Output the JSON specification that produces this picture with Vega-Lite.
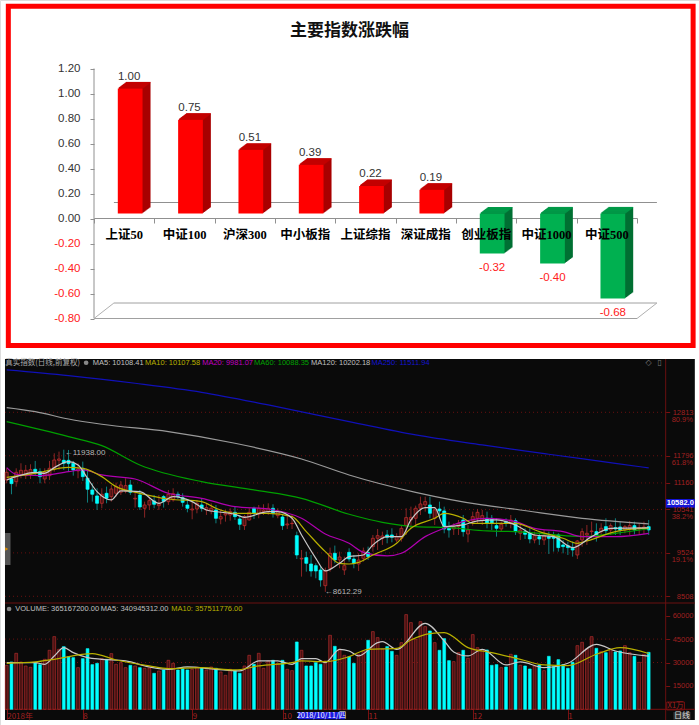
{"$schema":"https://vega.github.io/schema/vega-lite/v6.json","width":699,"height":725,"padding":0,"autosize":"none","background":"#ffffff",
"title":{"text":"主要指数涨跌幅","font":"Noto Sans CJK SC","fontSize":17,"fontWeight":"bold","color":"#111111","anchor":"middle","offset":-53,"baseline":"alphabetic"},
"datasets":{
"one":[{"k":0}],
"bars":[{"name":"上证50","value":1.00,"label":"1.00"},{"name":"中证100","value":0.75,"label":"0.75"},{"name":"沪深300","value":0.51,"label":"0.51"},{"name":"中小板指","value":0.39,"label":"0.39"},{"name":"上证综指","value":0.22,"label":"0.22"},{"name":"深证成指","value":0.19,"label":"0.19"},{"name":"创业板指","value":-0.32,"label":"-0.32"},{"name":"中证1000","value":-0.40,"label":"-0.40"},{"name":"中证500","value":-0.68,"label":"-0.68"}],
"levels":[{"price":12813,"pct":"80.9%"},{"price":11796,"pct":"61.8%"},{"price":11160,"pct":""},{"price":10541,"pct":"38.2%"},{"price":9524,"pct":"19.1%"},{"price":8508,"pct":""}],
"vlevels":[{"v":45000},{"v":30000}],
"candles":[
{"d":0,"o":11230,"h":11503,"l":11152,"c":11409,"v":28208},{"d":1,"o":11253,"h":11308,"l":10895,"c":11144,"v":30345},{"d":2,"o":11191,"h":11503,"l":11074,"c":11409,"v":35902},{"d":3,"o":11347,"h":11620,"l":11269,"c":11456,"v":30345},{"d":4,"o":11331,"h":11581,"l":11253,"c":11456,"v":27781},{"d":5,"o":11363,"h":11597,"l":11253,"c":11472,"v":26926},{"d":6,"o":11480,"h":11675,"l":11331,"c":11425,"v":29918},{"d":7,"o":11425,"h":11503,"l":11152,"c":11308,"v":28636},{"d":8,"o":11253,"h":11503,"l":11152,"c":11409,"v":32055},{"d":9,"o":11331,"h":11675,"l":11230,"c":11503,"v":37825},
{"d":10,"o":11487,"h":11854,"l":11425,"c":11698,"v":46587},{"d":11,"o":11690,"h":11893,"l":11464,"c":11721,"v":38466},{"d":12,"o":11690,"h":11938,"l":11464,"c":11620,"v":40176},{"d":13,"o":11690,"h":11932,"l":11425,"c":11612,"v":33765},{"d":14,"o":11620,"h":11675,"l":11331,"c":11464,"v":33124},{"d":15,"o":11441,"h":11620,"l":11269,"c":11487,"v":26713},{"d":16,"o":11503,"h":11659,"l":11207,"c":11308,"v":32482},{"d":17,"o":11269,"h":11464,"l":10700,"c":11012,"v":38893},{"d":18,"o":10996,"h":11152,"l":10723,"c":10895,"v":28636},{"d":19,"o":10856,"h":11035,"l":10528,"c":10684,"v":29491},
{"d":20,"o":10684,"h":11035,"l":10567,"c":10895,"v":32482},{"d":21,"o":10918,"h":11074,"l":10684,"c":10801,"v":32055},{"d":22,"o":10840,"h":11113,"l":10723,"c":11019,"v":35688},{"d":23,"o":10918,"h":11168,"l":10840,"c":11074,"v":28850},{"d":24,"o":10941,"h":11207,"l":10879,"c":11113,"v":29918},{"d":25,"o":10973,"h":11269,"l":10918,"c":11097,"v":26713},{"d":26,"o":11113,"h":11230,"l":10879,"c":10941,"v":28208},{"d":27,"o":10785,"h":10957,"l":10583,"c":10801,"v":27781},{"d":28,"o":10879,"h":10996,"l":10528,"c":10598,"v":26713},{"d":29,"o":10567,"h":10723,"l":10349,"c":10645,"v":26285},
{"d":30,"o":10645,"h":10840,"l":10528,"c":10746,"v":26499},{"d":31,"o":10739,"h":10879,"l":10567,"c":10661,"v":23080},{"d":32,"o":10629,"h":10879,"l":10528,"c":10668,"v":24576},{"d":33,"o":10840,"h":10879,"l":10583,"c":10723,"v":25217},{"d":34,"o":10723,"h":10996,"l":10645,"c":10895,"v":31414},{"d":35,"o":10762,"h":11035,"l":10723,"c":10910,"v":29491},{"d":36,"o":10895,"h":10957,"l":10785,"c":10840,"v":25217},{"d":37,"o":10817,"h":10918,"l":10606,"c":10707,"v":26071},{"d":38,"o":10645,"h":10762,"l":10473,"c":10567,"v":25217},{"d":39,"o":10528,"h":10723,"l":10310,"c":10551,"v":25644},
{"d":40,"o":10551,"h":10762,"l":10450,"c":10684,"v":26926},{"d":41,"o":10645,"h":10801,"l":10489,"c":10567,"v":26713},{"d":42,"o":10528,"h":10684,"l":10411,"c":10583,"v":25217},{"d":43,"o":10505,"h":10684,"l":10427,"c":10567,"v":27140},{"d":44,"o":10528,"h":10645,"l":10216,"c":10333,"v":26285},{"d":45,"o":10317,"h":10528,"l":10193,"c":10372,"v":23934},{"d":46,"o":10411,"h":10528,"l":10255,"c":10450,"v":21797},{"d":47,"o":10411,"h":10567,"l":10278,"c":10489,"v":25644},{"d":48,"o":10473,"h":10606,"l":10294,"c":10372,"v":24789},{"d":49,"o":10317,"h":10411,"l":10060,"c":10193,"v":23080},
{"d":50,"o":10161,"h":10411,"l":10060,"c":10372,"v":27781},{"d":51,"o":10294,"h":10567,"l":10278,"c":10473,"v":34619},{"d":52,"o":10567,"h":10606,"l":10317,"c":10450,"v":28850},{"d":53,"o":10427,"h":10645,"l":10333,"c":10567,"v":35902},{"d":54,"o":10489,"h":10661,"l":10411,"c":10528,"v":26285},{"d":55,"o":10489,"h":10684,"l":10411,"c":10567,"v":30987},{"d":56,"o":10567,"h":10661,"l":10349,"c":10450,"v":31414},{"d":57,"o":10395,"h":10567,"l":10333,"c":10489,"v":29491},{"d":58,"o":10364,"h":10411,"l":10060,"c":10161,"v":31414},{"d":59,"o":10177,"h":10411,"l":10083,"c":10200,"v":25644},
{"d":60,"o":10208,"h":10411,"l":10083,"c":10216,"v":24789},{"d":61,"o":9927,"h":10021,"l":9381,"c":9475,"v":43167},{"d":62,"o":9381,"h":9592,"l":8968,"c":9397,"v":37825},{"d":63,"o":9413,"h":9553,"l":9085,"c":9280,"v":27781},{"d":64,"o":9264,"h":9475,"l":8968,"c":9101,"v":27781},{"d":65,"o":9225,"h":9280,"l":8929,"c":9101,"v":29918},{"d":66,"o":9124,"h":9202,"l":8734,"c":8890,"v":28850},{"d":67,"o":8757,"h":9179,"l":8612,"c":9101,"v":30987},{"d":68,"o":9163,"h":9647,"l":9085,"c":9514,"v":47441},{"d":69,"o":9514,"h":9694,"l":9280,"c":9358,"v":40389},
{"d":70,"o":9358,"h":9553,"l":9163,"c":9428,"v":38466},{"d":71,"o":9124,"h":9436,"l":9007,"c":9225,"v":34619},{"d":72,"o":9537,"h":9631,"l":9319,"c":9381,"v":33765},{"d":73,"o":9381,"h":9475,"l":9163,"c":9280,"v":29491},{"d":74,"o":9264,"h":9514,"l":9101,"c":9358,"v":35261},{"d":75,"o":9397,"h":9647,"l":9319,"c":9569,"v":37398},{"d":76,"o":9530,"h":9670,"l":9358,"c":9436,"v":44236},{"d":77,"o":9670,"h":9943,"l":9553,"c":9865,"v":49792},{"d":78,"o":9865,"h":10083,"l":9592,"c":9927,"v":45946},{"d":79,"o":9865,"h":10021,"l":9709,"c":9919,"v":38466},
{"d":80,"o":9943,"h":10060,"l":9748,"c":9888,"v":40176},{"d":81,"o":9943,"h":10099,"l":9771,"c":9888,"v":37184},{"d":82,"o":9826,"h":9982,"l":9771,"c":9904,"v":34619},{"d":83,"o":9865,"h":10177,"l":9787,"c":10099,"v":42740},{"d":84,"o":10161,"h":10567,"l":9943,"c":10349,"v":60691},{"d":85,"o":10294,"h":10606,"l":10099,"c":10356,"v":55562},{"d":86,"o":10333,"h":10629,"l":10177,"c":10567,"v":44877},{"d":87,"o":10567,"h":10840,"l":10411,"c":10668,"v":56203},{"d":88,"o":10645,"h":10840,"l":10489,"c":10723,"v":52998},{"d":89,"o":10645,"h":10840,"l":10333,"c":10450,"v":50220},
{"d":90,"o":10333,"h":10567,"l":10177,"c":10528,"v":42740},{"d":91,"o":10551,"h":10723,"l":10333,"c":10505,"v":37825},{"d":92,"o":10505,"h":10606,"l":9982,"c":10083,"v":45304},{"d":93,"o":10099,"h":10255,"l":9881,"c":10060,"v":31200},{"d":94,"o":10083,"h":10216,"l":9943,"c":10138,"v":30559},{"d":95,"o":10138,"h":10294,"l":9943,"c":10216,"v":36329},{"d":96,"o":10294,"h":10411,"l":9904,"c":10021,"v":37825},{"d":97,"o":9966,"h":10177,"l":9771,"c":10060,"v":32696},{"d":98,"o":10271,"h":10489,"l":10161,"c":10372,"v":47869},{"d":99,"o":10333,"h":10551,"l":10216,"c":10473,"v":39535},
{"d":100,"o":10278,"h":10528,"l":10177,"c":10395,"v":38039},{"d":101,"o":10333,"h":10489,"l":10099,"c":10216,"v":38039},{"d":102,"o":10333,"h":10411,"l":10060,"c":10216,"v":28208},{"d":103,"o":10161,"h":10333,"l":9904,"c":10099,"v":28636},{"d":104,"o":10083,"h":10255,"l":10021,"c":10193,"v":26713},{"d":105,"o":10255,"h":10333,"l":10138,"c":10216,"v":27140},{"d":106,"o":10216,"h":10411,"l":10099,"c":10294,"v":35261},{"d":107,"o":10278,"h":10333,"l":9943,"c":10021,"v":34619},{"d":108,"o":9982,"h":10216,"l":9826,"c":10060,"v":28208},{"d":109,"o":10021,"h":10099,"l":9849,"c":9959,"v":27781},
{"d":110,"o":9982,"h":10099,"l":9748,"c":9849,"v":25858},{"d":111,"o":9826,"h":10021,"l":9748,"c":9927,"v":27781},{"d":112,"o":9904,"h":9982,"l":9709,"c":9849,"v":28422},{"d":113,"o":9826,"h":10060,"l":9709,"c":9927,"v":24789},{"d":114,"o":9904,"h":10021,"l":9498,"c":9865,"v":33978},{"d":115,"o":9904,"h":10021,"l":9553,"c":9865,"v":27354},{"d":116,"o":9943,"h":9982,"l":9553,"c":9647,"v":31841},{"d":117,"o":9709,"h":9826,"l":9514,"c":9670,"v":28636},{"d":118,"o":9693,"h":9787,"l":9475,"c":9647,"v":26285},{"d":119,"o":9631,"h":9787,"l":9436,"c":9592,"v":30132},
{"d":120,"o":9475,"h":9826,"l":9381,"c":9803,"v":40817},{"d":121,"o":9826,"h":10099,"l":9670,"c":10021,"v":42954},{"d":122,"o":9943,"h":10177,"l":9709,"c":9982,"v":38893},{"d":123,"o":10021,"h":10255,"l":9865,"c":10037,"v":46587},{"d":124,"o":10021,"h":10216,"l":9787,"c":9943,"v":39107},{"d":125,"o":10021,"h":10216,"l":9904,"c":10099,"v":36970},{"d":126,"o":10138,"h":10333,"l":9943,"c":10044,"v":36329},{"d":127,"o":10060,"h":10216,"l":9943,"c":10161,"v":38466},{"d":128,"o":10115,"h":10333,"l":9943,"c":10083,"v":36756},{"d":129,"o":10130,"h":10255,"l":9943,"c":10052,"v":37398},
{"d":130,"o":10060,"h":10177,"l":9982,"c":10138,"v":40817},{"d":131,"o":10083,"h":10271,"l":9943,"c":10161,"v":36329},{"d":132,"o":10161,"h":10255,"l":9959,"c":10060,"v":33978},{"d":133,"o":10083,"h":10216,"l":9943,"c":10115,"v":30132},{"d":134,"o":10083,"h":10255,"l":9959,"c":10130,"v":35261},{"d":135,"o":10138,"h":10294,"l":9943,"c":10060,"v":36517}],
"ma":[
{"d":0,"ma":"MA250","p":13804},{"d":13,"ma":"MA250","p":13671},{"d":27,"ma":"MA250","p":13492},{"d":41,"ma":"MA250","p":13281},{"d":55,"ma":"MA250","p":12985},{"d":72,"ma":"MA250","p":12595},{"d":86,"ma":"MA250","p":12283},{"d":100,"ma":"MA250","p":12049},{"d":114,"ma":"MA250","p":11831},{"d":128,"ma":"MA250","p":11620},{"d":135,"ma":"MA250","p":11512},
{"d":0,"ma":"MA120","p":12923},{"d":6,"ma":"MA120","p":12829},{"d":13,"ma":"MA120","p":12657},{"d":20,"ma":"MA120","p":12533},{"d":34,"ma":"MA120","p":12361},{"d":48,"ma":"MA120","p":12088},{"d":62,"ma":"MA120","p":11721},{"d":72,"ma":"MA120","p":11347},{"d":86,"ma":"MA120","p":10941},{"d":100,"ma":"MA120","p":10645},{"d":107,"ma":"MA120","p":10544},{"d":121,"ma":"MA120","p":10333},{"d":135,"ma":"MA120","p":10202},
{"d":0,"ma":"MA60","p":12595},{"d":13,"ma":"MA60","p":12244},{"d":20,"ma":"MA60","p":12033},{"d":28,"ma":"MA60","p":11581},{"d":41,"ma":"MA60","p":11191},{"d":52,"ma":"MA60","p":10996},{"d":62,"ma":"MA60","p":10801},{"d":72,"ma":"MA60","p":10427},{"d":79,"ma":"MA60","p":10239},{"d":86,"ma":"MA60","p":10138},{"d":93,"ma":"MA60","p":10115},{"d":101,"ma":"MA60","p":10037},{"d":107,"ma":"MA60","p":10021},{"d":114,"ma":"MA60","p":9959},{"d":121,"ma":"MA60","p":9904},{"d":128,"ma":"MA60","p":9982},{"d":135,"ma":"MA60","p":10088},
{"d":0,"ma":"MA20","p":11519},{"d":2,"ma":"MA20","p":11363},{"d":7,"ma":"MA20","p":11331},{"d":13,"ma":"MA20","p":11425},{"d":16,"ma":"MA20","p":11464},{"d":20,"ma":"MA20","p":11347},{"d":27,"ma":"MA20","p":11253},{"d":34,"ma":"MA20","p":10918},{"d":41,"ma":"MA20","p":10801},{"d":48,"ma":"MA20","p":10606},{"d":55,"ma":"MA20","p":10551},{"d":62,"ma":"MA20","p":10333},{"d":67,"ma":"MA20","p":9966},{"d":72,"ma":"MA20","p":9748},{"d":75,"ma":"MA20","p":9537},{"d":80,"ma":"MA20","p":9452},{"d":83,"ma":"MA20","p":9514},{"d":88,"ma":"MA20","p":9904},{"d":92,"ma":"MA20","p":10099},{"d":96,"ma":"MA20","p":10255},{"d":101,"ma":"MA20","p":10333},{"d":107,"ma":"MA20","p":10255},{"d":111,"ma":"MA20","p":10099},{"d":117,"ma":"MA20","p":10021},{"d":121,"ma":"MA20","p":9904},{"d":128,"ma":"MA20","p":9904},{"d":135,"ma":"MA20","p":9982},
{"d":0,"ma":"MA10","p":11292},{"d":6,"ma":"MA10","p":11386},{"d":13,"ma":"MA10","p":11526},{"d":16,"ma":"MA10","p":11503},{"d":20,"ma":"MA10","p":11308},{"d":23,"ma":"MA10","p":11074},{"d":28,"ma":"MA10","p":10918},{"d":34,"ma":"MA10","p":10785},{"d":41,"ma":"MA10","p":10723},{"d":44,"ma":"MA10","p":10567},{"d":48,"ma":"MA10","p":10450},{"d":55,"ma":"MA10","p":10450},{"d":60,"ma":"MA10","p":10372},{"d":63,"ma":"MA10","p":10021},{"d":67,"ma":"MA10","p":9553},{"d":70,"ma":"MA10","p":9280},{"d":72,"ma":"MA10","p":9264},{"d":74,"ma":"MA10","p":9303},{"d":77,"ma":"MA10","p":9475},{"d":82,"ma":"MA10","p":9748},{"d":85,"ma":"MA10","p":10099},{"d":90,"ma":"MA10","p":10333},{"d":92,"ma":"MA10","p":10450},{"d":96,"ma":"MA10","p":10333},{"d":98,"ma":"MA10","p":10216},{"d":107,"ma":"MA10","p":10216},{"d":112,"ma":"MA10","p":10021},{"d":117,"ma":"MA10","p":9865},{"d":120,"ma":"MA10","p":9748},{"d":122,"ma":"MA10","p":9803},{"d":128,"ma":"MA10","p":10021},{"d":135,"ma":"MA10","p":10108},
{"d":0,"ma":"MA5","p":11230},{"d":2,"ma":"MA5","p":11308},{"d":6,"ma":"MA5","p":11409},{"d":8,"ma":"MA5","p":11386},{"d":10,"ma":"MA5","p":11519},{"d":13,"ma":"MA5","p":11659},{"d":15,"ma":"MA5","p":11581},{"d":17,"ma":"MA5","p":11269},{"d":19,"ma":"MA5","p":10957},{"d":22,"ma":"MA5","p":10762},{"d":24,"ma":"MA5","p":10973},{"d":28,"ma":"MA5","p":10957},{"d":32,"ma":"MA5","p":10684},{"d":35,"ma":"MA5","p":10840},{"d":39,"ma":"MA5","p":10723},{"d":42,"ma":"MA5","p":10528},{"d":48,"ma":"MA5","p":10427},{"d":50,"ma":"MA5","p":10356},{"d":55,"ma":"MA5","p":10489},{"d":57,"ma":"MA5","p":10489},{"d":60,"ma":"MA5","p":10333},{"d":62,"ma":"MA5","p":9943},{"d":65,"ma":"MA5","p":9397},{"d":67,"ma":"MA5","p":9101},{"d":70,"ma":"MA5","p":9280},{"d":72,"ma":"MA5","p":9436},{"d":75,"ma":"MA5","p":9475},{"d":77,"ma":"MA5","p":9709},{"d":80,"ma":"MA5","p":9904},{"d":83,"ma":"MA5","p":9904},{"d":85,"ma":"MA5","p":10294},{"d":88,"ma":"MA5","p":10583},{"d":90,"ma":"MA5","p":10583},{"d":92,"ma":"MA5","p":10138},{"d":96,"ma":"MA5","p":10177},{"d":99,"ma":"MA5","p":10271},{"d":103,"ma":"MA5","p":10294},{"d":107,"ma":"MA5","p":10177},{"d":111,"ma":"MA5","p":9943},{"d":115,"ma":"MA5","p":9904},{"d":119,"ma":"MA5","p":9647},{"d":123,"ma":"MA5","p":9904},{"d":127,"ma":"MA5","p":10099},{"d":135,"ma":"MA5","p":10108}],
"vma":[
{"d":0,"ma":"MA5","v":29918},{"d":6,"ma":"MA5","v":29918},{"d":8,"ma":"MA5","v":28850},{"d":10,"ma":"MA5","v":34192},{"d":12,"ma":"MA5","v":39535},{"d":14,"ma":"MA5","v":36329},{"d":17,"ma":"MA5","v":33124},{"d":20,"ma":"MA5","v":32055},{"d":25,"ma":"MA5","v":30987},{"d":30,"ma":"MA5","v":27140},{"d":34,"ma":"MA5","v":25644},{"d":38,"ma":"MA5","v":27140},{"d":44,"ma":"MA5","v":25644},{"d":49,"ma":"MA5","v":24576},{"d":53,"ma":"MA5","v":30987},{"d":57,"ma":"MA5","v":30987},{"d":60,"ma":"MA5","v":28850},{"d":62,"ma":"MA5","v":32482},{"d":65,"ma":"MA5","v":32482},{"d":67,"ma":"MA5","v":29918},{"d":70,"ma":"MA5","v":38466},{"d":72,"ma":"MA5","v":37398},{"d":74,"ma":"MA5","v":34192},{"d":78,"ma":"MA5","v":42740},{"d":79,"ma":"MA5","v":43381},{"d":82,"ma":"MA5","v":38466},{"d":88,"ma":"MA5","v":55135},{"d":92,"ma":"MA5","v":43809},{"d":94,"ma":"MA5","v":36756},{"d":97,"ma":"MA5","v":34192},{"d":100,"ma":"MA5","v":38466},{"d":105,"ma":"MA5","v":28422},{"d":108,"ma":"MA5","v":30345},{"d":113,"ma":"MA5","v":26713},{"d":118,"ma":"MA5","v":29491},{"d":124,"ma":"MA5","v":41672},{"d":128,"ma":"MA5","v":37398},{"d":135,"ma":"MA5","v":34095},
{"d":0,"ma":"MA10","v":29491},{"d":6,"ma":"MA10","v":30345},{"d":10,"ma":"MA10","v":32055},{"d":18,"ma":"MA10","v":35688},{"d":23,"ma":"MA10","v":31628},{"d":30,"ma":"MA10","v":27781},{"d":34,"ma":"MA10","v":26071},{"d":41,"ma":"MA10","v":26713},{"d":48,"ma":"MA10","v":25217},{"d":53,"ma":"MA10","v":27781},{"d":60,"ma":"MA10","v":29918},{"d":62,"ma":"MA10","v":30987},{"d":67,"ma":"MA10","v":30559},{"d":72,"ma":"MA10","v":33765},{"d":76,"ma":"MA10","v":38466},{"d":82,"ma":"MA10","v":39107},{"d":85,"ma":"MA10","v":44450},{"d":89,"ma":"MA10","v":48510},{"d":92,"ma":"MA10","v":49151},{"d":97,"ma":"MA10","v":39535},{"d":102,"ma":"MA10","v":36329},{"d":108,"ma":"MA10","v":32055},{"d":113,"ma":"MA10","v":28422},{"d":118,"ma":"MA10","v":27995},{"d":124,"ma":"MA10","v":35261},{"d":129,"ma":"MA10","v":39535},{"d":135,"ma":"MA10","v":35751}]
},
"resolve":{"scale":{"x":"independent","y":"independent"},"axis":{"x":"independent","y":"independent"}},
"layer":[
{"layer":[
{"data":{"name":"one"},"mark":{"type":"rect","fill":"transparent","stroke":"#ff0000","strokeWidth":5},"encoding":{"x":{"datum":-1.42,"type":"quantitative","axis":null,"scale":{"domain":[0,9],"range":[94,637],"nice":false,"zero":false,"padding":0}},"x2":{"datum":9.93},"y":{"datum":1.698,"type":"quantitative","axis":null,"scale":{"domain":[-0.8,1.2],"range":[318.5,68.5],"nice":false,"zero":false,"padding":0}},"y2":{"datum":-1.016}}},
{"data":{"name":"one"},"mark":{"type":"rule","color":"#909090","strokeWidth":1},"encoding":{"x":{"datum":0,"type":"quantitative","axis":null},"y":{"datum":-0.8,"type":"quantitative","axis":null},"y2":{"datum":1.2}}},
{"data":{"name":"one"},"mark":{"type":"rule","color":"#909090","strokeWidth":1},"encoding":{"x":{"datum":0.33,"type":"quantitative","axis":null},"x2":{"datum":9.33},"y":{"datum":0.128,"type":"quantitative","axis":null}}},
{"data":{"name":"one"},"mark":{"type":"rule","color":"#a0a0a0","strokeWidth":1},"encoding":{"x":{"datum":0.33,"type":"quantitative","axis":null},"x2":{"datum":9.33},"y":{"datum":-0.676,"type":"quantitative","axis":null}}},
{"data":{"name":"one"},"mark":{"type":"rule","color":"#a0a0a0","strokeWidth":1},"encoding":{"x":{"datum":0,"type":"quantitative","axis":null},"x2":{"datum":9},"y":{"datum":-0.8,"type":"quantitative","axis":null}}},
{"data":{"name":"one"},"mark":{"type":"rule","color":"#b0b0b0","strokeWidth":1},"encoding":{"x":{"datum":0,"type":"quantitative","axis":null},"x2":{"datum":0.33},"y":{"datum":-0.8,"type":"quantitative","axis":null},"y2":{"datum":-0.676}}},
{"data":{"name":"one"},"mark":{"type":"rule","color":"#b0b0b0","strokeWidth":1},"encoding":{"x":{"datum":9,"type":"quantitative","axis":null},"x2":{"datum":9.33},"y":{"datum":-0.8,"type":"quantitative","axis":null},"y2":{"datum":-0.676}}}
]},
{"data":{"name":"bars"},"mark":{"type":"rule","opacity":0},"encoding":{"y":{"field":"value","type":"quantitative","scale":{"domain":[-0.8,1.2],"range":[318.5,68.5],"nice":false,"zero":false,"padding":0},"axis":{"orient":"left","offset":-94,"title":null,"domain":false,"values":[-0.8,-0.6,-0.4,-0.2,0,0.2,0.4,0.6,0.8,1.0,1.2],"format":".2f","labelExpr":"replace(datum.label,'−','-')","tickColor":"#909090","tickSize":4,"labelPadding":10,"labelFont":"Liberation Sans","labelFontSize":11.5,"labelColor":{"condition":{"test":"datum.value<0","value":"#ff2020"},"value":"#333333"},"grid":false}}}},
{"data":{"name":"bars"},"mark":{"type":"rule","opacity":0},"encoding":{"x":{"field":"name","type":"nominal","sort":null,"scale":{"range":[94,637],"paddingInner":0,"paddingOuter":0},"axis":{"orient":"bottom","offset":-507,"title":null,"labels":false,"domainColor":"#909090","tickColor":"#909090","tickSize":5,"tickBand":"extent","grid":false}}}},
{"data":{"name":"bars"},"encoding":{"x":{"field":"name","type":"nominal","sort":null,"axis":null,"scale":{"range":[100,643],"paddingInner":0.59,"paddingOuter":0.295}},"y":{"field":"value","type":"quantitative","axis":null,"scale":{"domain":[-0.8,1.2],"range":[313.5,63.5],"nice":false,"zero":false}},"y2":{"datum":0},"color":{"condition":{"test":"datum.value>=0","value":"#a80000"},"value":"#007033"}},
"layer":[
{"mark":{"type":"bar","xOffset":8,"yOffset":-6,"y2Offset":-6}},
{"mark":{"type":"bar","xOffset":7,"yOffset":-5.25,"y2Offset":-5.25}},
{"mark":{"type":"bar","xOffset":6,"yOffset":-4.5,"y2Offset":-4.5}},
{"mark":{"type":"bar","xOffset":5,"yOffset":-3.75,"y2Offset":-3.75}},
{"mark":{"type":"bar","xOffset":4,"yOffset":-3,"y2Offset":-3}},
{"mark":{"type":"bar","xOffset":3,"yOffset":-2.25,"y2Offset":-2.25}},
{"mark":{"type":"bar","xOffset":2,"yOffset":-1.5,"y2Offset":-1.5}},
{"mark":{"type":"bar","xOffset":1,"yOffset":-0.75,"y2Offset":-0.75}}
]},
{"data":{"name":"bars"},"encoding":{"x":{"field":"name","type":"nominal","sort":null,"axis":null,"scale":{"range":[100,643],"paddingInner":0.59,"paddingOuter":0.295}},"y":{"field":"value","type":"quantitative","axis":null,"scale":{"domain":[0,1.2],"range":[213.5,63.5],"clamp":true,"nice":false,"zero":false}},"color":{"condition":{"test":"datum.value>=0","value":"#c40000"},"value":"#009a48"}},
"layer":[
{"mark":{"type":"tick","size":24.7,"thickness":1.2,"opacity":1,"xOffset":8,"yOffset":-6}},
{"mark":{"type":"tick","size":24.7,"thickness":1.2,"opacity":1,"xOffset":7,"yOffset":-5.25}},
{"mark":{"type":"tick","size":24.7,"thickness":1.2,"opacity":1,"xOffset":6,"yOffset":-4.5}},
{"mark":{"type":"tick","size":24.7,"thickness":1.2,"opacity":1,"xOffset":5,"yOffset":-3.75}},
{"mark":{"type":"tick","size":24.7,"thickness":1.2,"opacity":1,"xOffset":4,"yOffset":-3}},
{"mark":{"type":"tick","size":24.7,"thickness":1.2,"opacity":1,"xOffset":3,"yOffset":-2.25}},
{"mark":{"type":"tick","size":24.7,"thickness":1.2,"opacity":1,"xOffset":2,"yOffset":-1.5}},
{"mark":{"type":"tick","size":24.7,"thickness":1.2,"opacity":1,"xOffset":1,"yOffset":-0.75}}
]},
{"data":{"name":"bars"},"layer":[
{"mark":{"type":"bar"},"encoding":{"x":{"field":"name","type":"nominal","sort":null,"axis":null,"scale":{"range":[100,643],"paddingInner":0.59,"paddingOuter":0.295}},"y":{"field":"value","type":"quantitative","axis":null,"scale":{"domain":[-0.8,1.2],"range":[313.5,63.5],"nice":false,"zero":false}},"y2":{"datum":0},"color":{"condition":{"test":"datum.value>=0","value":"#ff0000"},"value":"#00b050"}}},
{"transform":[{"filter":"datum.value>=0"}],"mark":{"type":"text","dy":-12,"dx":-1,"baseline":"middle","font":"Liberation Sans","fontSize":11.5,"color":"#333333"},"encoding":{"x":{"field":"name","type":"nominal","sort":null,"axis":null},"y":{"field":"value","type":"quantitative","axis":null},"text":{"field":"label"}}},
{"transform":[{"filter":"datum.value<0"}],"mark":{"type":"text","dy":14,"baseline":"middle","font":"Liberation Sans","fontSize":11.5,"color":"#ff2020"},"encoding":{"x":{"field":"name","type":"nominal","sort":null,"axis":null},"y":{"field":"value","type":"quantitative","axis":null},"text":{"field":"label"}}}
]},
{"data":{"name":"bars"},"mark":{"type":"rule","opacity":0},"encoding":{"x":{"field":"name","type":"nominal","sort":null,"scale":{"range":[94,637],"paddingInner":0,"paddingOuter":0},"axis":{"orient":"bottom","offset":-507,"title":null,"domain":false,"ticks":false,"tickSize":0,"labelAngle":0,"labelPadding":16,"labelBaseline":"middle","labelFont":"Liberation Serif, Noto Sans CJK SC","labelFontSize":12.5,"labelFontWeight":"bold","labelColor":"#000000","labelOverlap":false,"labelLimit":0,"grid":false,"zindex":1}}}},
{"layer":[
{"data":{"name":"one"},"mark":{"type":"rect","fill":"#0a0a0a"},"encoding":{"x":{"datum":-0.36,"type":"quantitative","axis":null,"scale":{"domain":[0,135],"range":[6.7,648.7],"nice":false,"zero":false,"padding":0}},"x2":{"datum":144.7},"y":{"datum":14060,"type":"quantitative","axis":null,"scale":{"domain":[8508,12813],"range":[596.3,412.3],"nice":false,"zero":false,"padding":0}},"y2":{"datum":5614}}},
{"data":{"name":"levels"},"mark":{"type":"rule","color":"#6a1010","strokeWidth":1,"strokeDash":[1,3]},"encoding":{"x":{"datum":-0.36,"type":"quantitative","axis":null},"x2":{"datum":138.6},"y":{"field":"price","type":"quantitative","axis":null}}},
{"data":{"name":"levels"},"mark":{"type":"text","align":"right","baseline":"middle","dy":7.5,"font":"Liberation Sans","fontSize":7.5,"color":"#a02020"},"encoding":{"x":{"datum":144.3,"type":"quantitative","axis":null},"y":{"field":"price","type":"quantitative","axis":null},"text":{"field":"pct"}}},
{"data":{"name":"one"},"mark":{"type":"rule","color":"#6a1010","strokeWidth":1},"encoding":{"x":{"datum":-0.36,"type":"quantitative","axis":null},"x2":{"datum":144.7},"y":{"datum":8351,"type":"quantitative","axis":null}}},
{"data":{"name":"one"},"mark":{"type":"rule","color":"#6a1010","strokeWidth":1},"encoding":{"x":{"datum":138.57,"type":"quantitative","axis":null},"y":{"datum":14060,"type":"quantitative","axis":null},"y2":{"datum":5614}}},
{"data":{"name":"candles"},"mark":{"type":"rule","strokeWidth":1},"encoding":{"x":{"field":"d","type":"quantitative","axis":null},"y":{"field":"h","type":"quantitative","axis":null},"y2":{"field":"l"},"color":{"condition":{"test":"datum.c>=datum.o","value":"#8a2525"},"value":"#0f8080"}}},
{"data":{"name":"candles"},"mark":{"type":"bar","width":3,"orient":"vertical","strokeWidth":0.7},"encoding":{"x":{"field":"d","type":"quantitative","axis":null},"y":{"field":"o","type":"quantitative","axis":null},"y2":{"field":"c"},"fill":{"condition":{"test":"datum.c>=datum.o","value":"#4a1212"},"value":"#00ffff"},"stroke":{"condition":{"test":"datum.c>=datum.o","value":"#c83030"},"value":"#00ffff"}}},
{"data":{"name":"ma"},"mark":{"type":"line","interpolate":"monotone","strokeWidth":1.2},"encoding":{"x":{"field":"d","type":"quantitative","axis":null},"y":{"field":"p","type":"quantitative","axis":null},"color":{"field":"ma","type":"nominal","legend":null,"scale":{"domain":["MA5","MA10","MA20","MA60","MA120","MA250"],"range":["#c8c8c8","#b8b000","#b000b0","#00a000","#9a9a9a","#1010b8"]}}}},
{"data":{"name":"one"},"mark":{"type":"text","text":"真实指数(日线,前复权)","align":"left","baseline":"middle","font":"Noto Sans CJK SC","fontSize":7.5,"color":"#aaaaaa"},"encoding":{"x":{"datum":-0.29,"type":"quantitative","axis":null},"y":{"datum":13973,"type":"quantitative","axis":null}}},
{"data":{"name":"one"},"mark":{"type":"point","filled":true,"size":22,"opacity":1,"color":"#888888"},"encoding":{"x":{"datum":16.7,"type":"quantitative","axis":null},"y":{"datum":13973,"type":"quantitative","axis":null}}},
{"data":{"name":"one"},"mark":{"type":"text","text":"MA5: 10108.41","align":"left","baseline":"middle","font":"Liberation Sans","fontSize":7.5,"color":"#c0c0c0"},"encoding":{"x":{"datum":18.1,"type":"quantitative","axis":null},"y":{"datum":13973,"type":"quantitative","axis":null}}},
{"data":{"name":"one"},"mark":{"type":"text","text":"MA10: 10107.58","align":"left","baseline":"middle","font":"Liberation Sans","fontSize":7.5,"color":"#b8b000"},"encoding":{"x":{"datum":29.1,"type":"quantitative","axis":null},"y":{"datum":13973,"type":"quantitative","axis":null}}},
{"data":{"name":"one"},"mark":{"type":"text","text":"MA20: 9981.07","align":"left","baseline":"middle","font":"Liberation Sans","fontSize":7.5,"color":"#c000c0"},"encoding":{"x":{"datum":41.1,"type":"quantitative","axis":null},"y":{"datum":13973,"type":"quantitative","axis":null}}},
{"data":{"name":"one"},"mark":{"type":"text","text":"MA60: 10088.35","align":"left","baseline":"middle","font":"Liberation Sans","fontSize":7.5,"color":"#00a000"},"encoding":{"x":{"datum":52,"type":"quantitative","axis":null},"y":{"datum":13973,"type":"quantitative","axis":null}}},
{"data":{"name":"one"},"mark":{"type":"text","text":"MA120: 10202.18","align":"left","baseline":"middle","font":"Liberation Sans","fontSize":7.5,"color":"#c0c0c0"},"encoding":{"x":{"datum":64,"type":"quantitative","axis":null},"y":{"datum":13973,"type":"quantitative","axis":null}}},
{"data":{"name":"one"},"mark":{"type":"text","text":"MA250: 11511.94","align":"left","baseline":"middle","font":"Liberation Sans","fontSize":7.5,"color":"#1414d0"},"encoding":{"x":{"datum":76.7,"type":"quantitative","axis":null},"y":{"datum":13973,"type":"quantitative","axis":null}}},
{"data":{"name":"one"},"mark":{"type":"text","text":"◇","align":"center","baseline":"middle","font":"DejaVu Sans","fontSize":8,"color":"#777777"},"encoding":{"x":{"datum":135,"type":"quantitative","axis":null},"y":{"datum":13973,"type":"quantitative","axis":null}}},
{"data":{"name":"one"},"mark":{"type":"text","text":"▯","align":"center","baseline":"middle","font":"DejaVu Sans","fontSize":8,"color":"#777777"},"encoding":{"x":{"datum":137.3,"type":"quantitative","axis":null},"y":{"datum":13973,"type":"quantitative","axis":null}}},
{"data":{"name":"one"},"mark":{"type":"text","text":"←11938.00","align":"left","baseline":"middle","font":"Liberation Sans","fontSize":8,"color":"#b8b8b8"},"encoding":{"x":{"datum":12.2,"type":"quantitative","axis":null},"y":{"datum":11854,"type":"quantitative","axis":null}}},
{"data":{"name":"one"},"mark":{"type":"text","text":"←8612.29","align":"left","baseline":"middle","font":"Liberation Sans","fontSize":8,"color":"#b8b8b8"},"encoding":{"x":{"datum":66.9,"type":"quantitative","axis":null},"y":{"datum":8601,"type":"quantitative","axis":null}}},
{"data":{"name":"one"},"mark":{"type":"rect","fill":"#1414d8"},"encoding":{"x":{"datum":138.6,"type":"quantitative","axis":null},"x2":{"datum":144.7},"y":{"datum":10784,"type":"quantitative","axis":null},"y2":{"datum":10581}}},
{"data":{"name":"one"},"mark":{"type":"text","text":"10582.0","align":"center","baseline":"middle","font":"Liberation Sans","fontSize":7.5,"fontWeight":"bold","color":"#ffffff"},"encoding":{"x":{"datum":141.65,"type":"quantitative","axis":null},"y":{"datum":10682,"type":"quantitative","axis":null}}},
{"data":{"name":"one"},"mark":{"type":"rect","fill":"#555555"},"encoding":{"x":{"datum":-0.36,"type":"quantitative","axis":null},"x2":{"datum":0.8},"y":{"datum":9989,"type":"quantitative","axis":null},"y2":{"datum":9240}}},
{"data":{"name":"one"},"mark":{"type":"point","shape":"triangle-right","filled":true,"size":12,"opacity":1,"color":"#e09000"},"encoding":{"x":{"datum":0,"type":"quantitative","axis":null},"y":{"datum":9615,"type":"quantitative","axis":null}}}
]},
{"data":{"name":"levels"},"mark":{"type":"rule","opacity":0},"encoding":{"y":{"field":"price","type":"quantitative","scale":{"domain":[8508,12813],"range":[596.3,412.3],"nice":false,"zero":false,"padding":0},"axis":{"orient":"right","offset":-33.3,"title":null,"values":[12813,11796,11160,10541,9524,8508],"format":"d","domain":false,"grid":false,"tickColor":"#7a1010","tickSize":4,"labelAlign":"right","labelPadding":23.3,"labelBaseline":"middle","labelFont":"Liberation Sans","labelFontSize":7.5,"labelColor":"#a02020","zindex":1}}}},
{"layer":[
{"data":{"name":"vlevels"},"mark":{"type":"rule","color":"#6a1010","strokeWidth":1,"strokeDash":[1,3]},"encoding":{"x":{"datum":-0.36,"type":"quantitative","axis":null,"scale":{"domain":[0,135],"range":[6.7,648.7],"nice":false,"zero":false,"padding":0}},"x2":{"datum":138.6},"y":{"field":"v","type":"quantitative","axis":null,"scale":{"domain":[0,60000],"range":[709.3,615.7],"nice":false,"zero":false,"padding":0}}}},
{"data":{"name":"one"},"mark":{"type":"rule","color":"#7a1010","strokeWidth":1},"encoding":{"x":{"datum":-0.36,"type":"quantitative","axis":null},"x2":{"datum":144.7},"y":{"datum":0,"type":"quantitative","axis":null}}},
{"data":{"name":"candles"},"mark":{"type":"bar","width":2.8,"orient":"vertical","strokeWidth":0.6},"encoding":{"x":{"field":"d","type":"quantitative","axis":null},"y":{"field":"v","type":"quantitative","axis":null},"y2":{"datum":0},"fill":{"condition":{"test":"datum.c>=datum.o","value":"#4a1212"},"value":"#00ffff"},"stroke":{"condition":{"test":"datum.c>=datum.o","value":"#c03030"},"value":"#00ffff"}}},
{"data":{"name":"vma"},"mark":{"type":"line","interpolate":"monotone","strokeWidth":1.2},"encoding":{"x":{"field":"d","type":"quantitative","axis":null},"y":{"field":"v","type":"quantitative","axis":null},"color":{"field":"ma","type":"nominal","legend":null}}},
{"data":{"name":"one"},"mark":{"type":"point","filled":true,"size":22,"opacity":1,"color":"#888888"},"encoding":{"x":{"datum":0.5,"type":"quantitative","axis":null},"y":{"datum":64295,"type":"quantitative","axis":null}}},
{"data":{"name":"one"},"mark":{"type":"text","text":"VOLUME: 365167200.00","align":"left","baseline":"middle","font":"Liberation Sans","fontSize":7.5,"color":"#c0c0c0"},"encoding":{"x":{"datum":1.8,"type":"quantitative","axis":null},"y":{"datum":64295,"type":"quantitative","axis":null}}},
{"data":{"name":"one"},"mark":{"type":"text","text":"MA5: 340945312.00","align":"left","baseline":"middle","font":"Liberation Sans","fontSize":7.5,"color":"#c0c0c0"},"encoding":{"x":{"datum":19.8,"type":"quantitative","axis":null},"y":{"datum":64295,"type":"quantitative","axis":null}}},
{"data":{"name":"one"},"mark":{"type":"text","text":"MA10: 357511776.00","align":"left","baseline":"middle","font":"Liberation Sans","fontSize":7.5,"color":"#b8b000"},"encoding":{"x":{"datum":34.6,"type":"quantitative","axis":null},"y":{"datum":64295,"type":"quantitative","axis":null}}},
{"data":{"name":"one"},"mark":{"type":"rect","fill":"#1a1ae0"},"encoding":{"x":{"datum":61.25,"type":"quantitative","axis":null},"x2":{"datum":71.1},"y":{"datum":-1730,"type":"quantitative","axis":null},"y2":{"datum":-6410}}},
{"data":{"name":"one"},"mark":{"type":"text","text":"2018/10/11/四","align":"center","baseline":"middle","font":"Noto Sans CJK SC","fontSize":7.5,"color":"#ffffff"},"encoding":{"x":{"datum":66.2,"type":"quantitative","axis":null},"y":{"datum":-4070,"type":"quantitative","axis":null}}},
{"data":{"name":"one"},"mark":{"type":"rect","fill":"transparent","stroke":"#7a1010","strokeWidth":1},"encoding":{"x":{"datum":138.8,"type":"quantitative","axis":null},"x2":{"datum":142.5},"y":{"datum":4650,"type":"quantitative","axis":null},"y2":{"datum":-400}}},
{"data":{"name":"one"},"mark":{"type":"text","text":"X1万","align":"center","baseline":"middle","font":"Noto Sans CJK SC","fontSize":7.5,"color":"#a02020"},"encoding":{"x":{"datum":140.65,"type":"quantitative","axis":null},"y":{"datum":2200,"type":"quantitative","axis":null}}},
{"data":{"name":"one"},"mark":{"type":"rect","fill":"#333333"},"encoding":{"x":{"datum":140.2,"type":"quantitative","axis":null},"x2":{"datum":143.8},"y":{"datum":-1730,"type":"quantitative","axis":null},"y2":{"datum":-6600}}},
{"data":{"name":"one"},"mark":{"type":"text","text":"日线","align":"center","baseline":"middle","font":"Noto Sans CJK SC","fontSize":8,"color":"#dddddd"},"encoding":{"x":{"datum":142,"type":"quantitative","axis":null},"y":{"datum":-4070,"type":"quantitative","axis":null}}}
]},
{"data":{"name":"candles"},"mark":{"type":"rule","opacity":0},"encoding":{"x":{"field":"d","type":"quantitative","scale":{"domain":[0,135],"range":[6.7,648.7],"nice":false,"zero":false,"padding":0},"axis":{"orient":"bottom","offset":-15.7,"title":null,"domain":false,"grid":false,"values":[0,16,39,58,76,98,118],"labelExpr":"datum.value==0?'2018年':datum.value==16?'8':datum.value==39?'9':datum.value==58?'10':datum.value==76?'11':datum.value==98?'12':'1'","tickColor":"#7a1010","tickSize":10,"labelAlign":"left","labelBaseline":"middle","labelPadding":-3,"labelFlush":false,"labelOverlap":false,"labelFont":"Noto Sans CJK SC","labelFontSize":8,"labelColor":"#a02020","zindex":1}}}},
{"data":{"name":"vlevels"},"mark":{"type":"rule","opacity":0},"encoding":{"y":{"field":"v","type":"quantitative","scale":{"domain":[0,60000],"range":[709.3,615.7],"nice":false,"zero":false,"padding":0},"axis":{"orient":"right","offset":-33.3,"title":null,"values":[15000,30000,45000,60000],"format":"d","domain":false,"grid":false,"tickColor":"#7a1010","tickSize":4,"labelAlign":"right","labelPadding":23.3,"labelBaseline":"middle","labelFont":"Liberation Sans","labelFontSize":7.5,"labelColor":"#a02020","zindex":1}}}}
]}
